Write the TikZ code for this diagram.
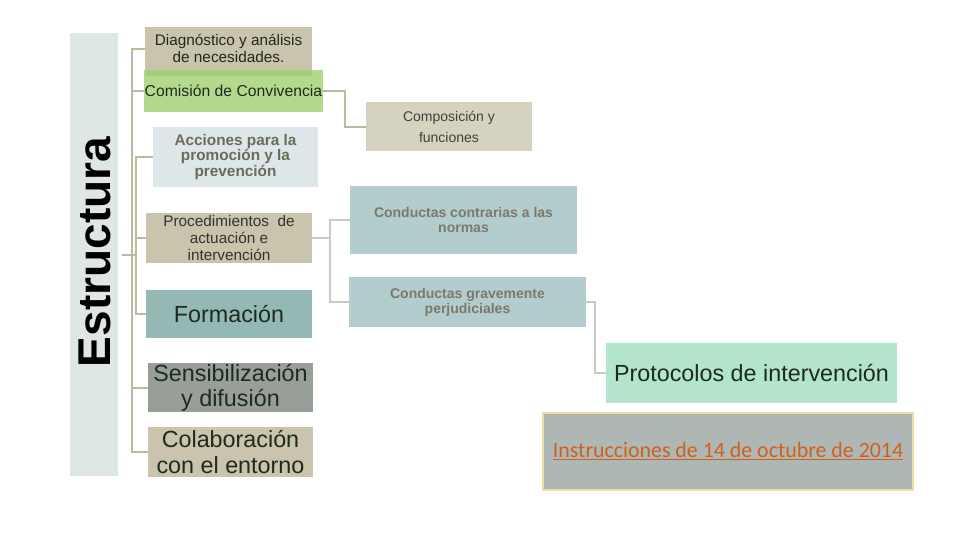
\documentclass[tikz,border=0pt]{standalone}
\usepackage{fontspec}
\setmainfont{Liberation Sans}
\newfontfamily\calib{Carlito}
\definecolor{tan}{HTML}{C9C4AB}
\definecolor{barc}{HTML}{DFE6E6}
\definecolor{greenc}{HTML}{B3DA8C}
\definecolor{greend}{HTML}{A2CF7A}
\definecolor{lightb}{HTML}{DDE6E8}
\definecolor{teal}{HTML}{94B9B5}
\definecolor{grayc}{HTML}{989F99}
\definecolor{compc}{HTML}{D5D2BF}
\definecolor{condc}{HTML}{B3CCCD}
\definecolor{mint}{HTML}{B3E5CB}
\definecolor{instc}{HTML}{AEB7B3}
\definecolor{instb}{HTML}{F0DCA0}
\definecolor{orng}{HTML}{D0601E}
\definecolor{connl}{HTML}{BFB9A0}
\definecolor{connr}{HTML}{CACAC2}
\definecolor{txtg}{HTML}{6B6B5B}
\definecolor{txtd}{HTML}{1F2A1F}
\tikzset{
  sz/.style 2 args={minimum width=#1*0.75pt, minimum height=#2*0.75pt},
  box/.style={rectangle, inner sep=0pt, align=center},
  small/.style={font=\fontsize{11.5}{12.8}\selectfont, text=txtd},
  big/.style={font=\fontsize{17.5}{18.8}\selectfont, text=txtd},
  bsmall/.style={font=\fontsize{11.5}{11.6}\selectfont\bfseries, text=txtg},
  csmall/.style={font=\fontsize{10.5}{11.3}\selectfont\bfseries, text=txtg!90!white},
  conn/.style={draw=connl, line width=1.5pt},
  connR/.style={draw=connr, line width=1.5pt},
}
\begin{document}
\begin{tikzpicture}[x=0.75pt, y=-0.75pt]
\path[use as bounding box] (0,0) rectangle (960,540);
% bar
\node[box, fill=barc, sz={48}{443}] (bar) at (94,254.5) {};
\node[rotate=90, font=\fontsize{34.5}{36}\selectfont\bfseries, inner sep=0pt] (estr) at (95,252) {Estructura};
% left column
\node[box, fill=tan, sz={167}{43}, small] (diag) at (228.5,48.5) {Diagnóstico y análisis\\de necesidades.};
\node[box, fill=greenc, sz={179}{42}, font=\fontsize{11.8}{13}\selectfont, text=txtd] (comision) at (233.5,91) {Comisión de Convivencia};
\fill[greend] (145,70) rectangle (312,76);
\node[box, fill=lightb, sz={165}{60}, bsmall] (acciones) at (235.5,157) {Acciones para la\\promoción y la\\prevención};
\node[box, fill=tan, sz={166}{50}, small, text=black!80] (proc) at (229,238) {Procedimientos\ \ de\\actuación e\\intervención};
\node[box, fill=teal, sz={166}{48}, big] (form) at (229,314) {Formación};
\node[box, fill=grayc, sz={165}{49}, big] (sens) at (230.5,387.5) {Sensibilización\\y difusión};
\node[box, fill=tan, sz={165}{50}, big] (colab) at (230.5,452) {Colaboración\\con el entorno};
% right column
\node[box, fill=compc, sz={166}{49}, font=\fontsize{10.5}{15.75}\selectfont, text=black!75] (comp) at (449,126.5) {Composición y\\funciones};
\node[box, fill=condc, sz={227}{68}, csmall] (cc) at (463.5,220) {Conductas contrarias a las\\normas};
\node[box, fill=condc, sz={237}{50}, csmall] (cg) at (467.5,302) {Conductas gravemente\\perjudiciales};
\node[box, fill=mint, sz={291}{60}, big] (prot) at (751.5,373) {Protocolos de intervención};
\node[box, fill=instc, draw=instb, line width=0.8pt, sz={370}{77}, font=\calib\fontsize{16.4}{18}\selectfont, text=orng] (instr) at (728,451.5) {\underline{Instrucciones de 14 de octubre de 2014}};
% spines
\coordinate (s1) at (132,0);
\coordinate (s2) at (136,0);
\coordinate (s3) at (330,0);
\coordinate (root) at (122,255);
\draw[conn] (diag.west) -- (diag.west -| s1) -- (colab.west -| s1) -- (colab.west);
\draw[conn] (comision.west) -- (comision.west -| s1);
\draw[conn] (sens.west) -- (sens.west -| s1);
\draw[conn] (acciones.west) -- (acciones.west -| s2) -- (form.west -| s2) -- (form.west);
\draw[conn] (proc.west) -- (proc.west -| s2);
\draw[conn] (root) -- (root -| s2);
\draw[conn] (comision.east) -- ++(22,0) |- (comp.west);
\draw[connR] (cc.west) -- (cc.west -| s3) -- (cg.west -| s3) -- (cg.west);
\draw[connR] (proc.east) -- (proc.east -| s3);
\draw[connR] (cg.east) -- ++(9,0) |- (prot.west);
\end{tikzpicture}
\end{document}
